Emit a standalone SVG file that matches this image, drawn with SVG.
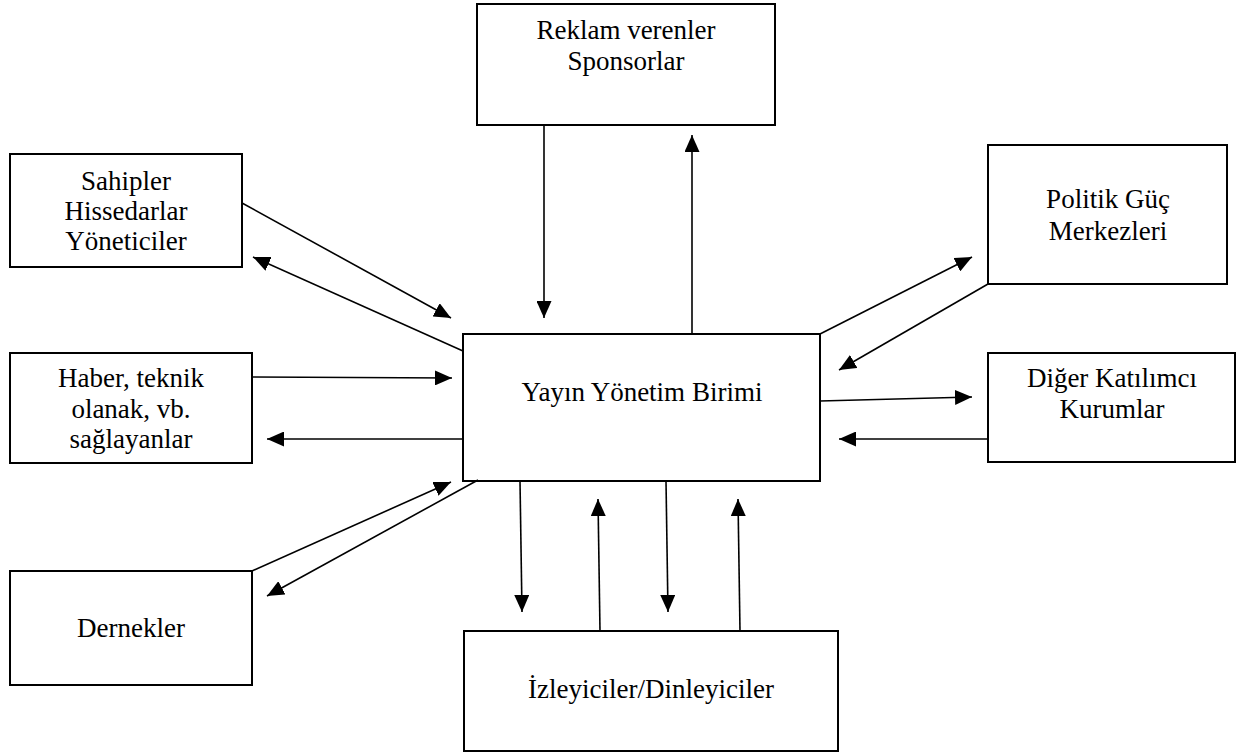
<svg xmlns="http://www.w3.org/2000/svg" width="1239" height="753" viewBox="0 0 1239 753">
<style>
.box{fill:#fff;stroke:#000;stroke-width:2}
.t{font-family:'Liberation Serif','DejaVu Serif',serif;font-size:27px;fill:#000;text-anchor:middle}
.c{stroke:#000;stroke-width:1.6;fill:none;marker-end:url(#ah)}
</style>
<defs>
<marker id="ah" markerWidth="18" markerHeight="15" refX="17" refY="7.5" orient="auto" markerUnits="userSpaceOnUse" viewBox="0 0 18 15">
<path d="M0,0 L17,7.5 L0,15 z" fill="#000"/>
</marker>
</defs>
<rect width="1239" height="753" fill="#fff"/>
<g id="reklam"><rect class="box" x="477" y="4" width="298" height="121"/><text class="t" x="626" y="39">Reklam verenler</text><text class="t" x="626" y="70">Sponsorlar</text></g>
<g id="sahipler"><rect class="box" x="10" y="154" width="232" height="113"/><text class="t" x="126" y="190">Sahipler</text><text class="t" x="126" y="220">Hissedarlar</text><text class="t" x="126" y="250">Yöneticiler</text></g>
<g id="haber"><rect class="box" x="10" y="353" width="242" height="110"/><text class="t" x="131" y="387">Haber, teknik</text><text class="t" x="131" y="418">olanak, vb.</text><text class="t" x="131" y="448">sağlayanlar</text></g>
<g id="dernekler"><rect class="box" x="10" y="571" width="242" height="114"/><text class="t" x="131" y="637">Dernekler</text></g>
<g id="merkez"><rect class="box" x="463" y="334" width="357" height="147"/><text class="t" x="642" y="401">Yayın Yönetim Birimi</text></g>
<g id="politik"><rect class="box" x="988" y="145" width="239" height="139"/><text class="t" x="1108" y="208">Politik Güç</text><text class="t" x="1108" y="240">Merkezleri</text></g>
<g id="diger"><rect class="box" x="988" y="353" width="247" height="109"/><text class="t" x="1112" y="387">Diğer Katılımcı</text><text class="t" x="1112" y="418">Kurumlar</text></g>
<g id="izleyiciler"><rect class="box" x="464" y="631" width="374" height="120"/><text class="t" x="651" y="698">İzleyiciler/Dinleyiciler</text></g>
<g id="connectors">
<line class="c" x1="544" y1="125" x2="544" y2="318"/>
<line class="c" x1="692" y1="334" x2="692" y2="135"/>
<line class="c" x1="242" y1="203" x2="451" y2="318"/>
<line class="c" x1="463" y1="351" x2="253" y2="257"/>
<line class="c" x1="252" y1="377" x2="452" y2="378"/>
<line class="c" x1="463" y1="439" x2="267" y2="439"/>
<line class="c" x1="252" y1="571" x2="451" y2="482"/>
<line class="c" x1="478" y1="480" x2="267" y2="596"/>
<line class="c" x1="820" y1="334" x2="972" y2="257"/>
<line class="c" x1="988" y1="284" x2="839" y2="370"/>
<line class="c" x1="820" y1="401" x2="972" y2="397"/>
<line class="c" x1="988" y1="439" x2="839" y2="439"/>
<line class="c" x1="520" y1="481" x2="522" y2="612"/>
<line class="c" x1="600" y1="631" x2="598" y2="499"/>
<line class="c" x1="666" y1="481" x2="668" y2="612"/>
<line class="c" x1="740" y1="631" x2="738" y2="499"/>
</g>
</svg>
